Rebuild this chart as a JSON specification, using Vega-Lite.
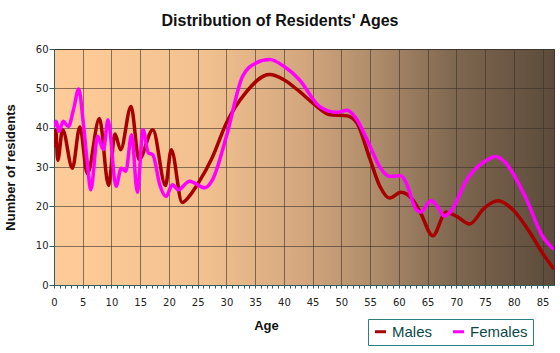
{
  "$schema": "https://vega.github.io/schema/vega-lite/v6.json",
  "width": 500,
  "height": 236,
  "autosize": {"type": "none"},
  "padding": {"left": 54, "top": 49, "right": 6, "bottom": 68},
  "background": "white",
  "title": {"text": "Distribution of Residents' Ages", "fontSize": 16, "font": "Liberation Sans", "fontWeight": "bold", "color": "#111111", "anchor": "middle", "dx": -24, "offset": 15},
  "config": {
    "view": {
      "fill": {"gradient": "linear", "x1": 0, "y1": 0, "x2": 1, "y2": 0, "stops": [
        {"offset": 0, "color": "#FFCC99"},
        {"offset": 0.3, "color": "#F2C18F"},
        {"offset": 0.5, "color": "#D3A67E"},
        {"offset": 0.65, "color": "#AC8A69"},
        {"offset": 0.8, "color": "#7F6750"},
        {"offset": 1, "color": "#5C4B3B"}
      ]},
      "stroke": "#3a3a3a"
    }
  },
  "datasets": {
    "ages": [
      {"age": 0, "sex": "Males", "n": 35}, {"age": 0.3, "sex": "Males", "n": 39.5}, {"age": 0.65, "sex": "Males", "n": 31.7}, {"age": 1.5, "sex": "Males", "n": 39.5}, {"age": 3.2, "sex": "Males", "n": 29.7}, {"age": 4.5, "sex": "Males", "n": 40.2}, {"age": 5.8, "sex": "Males", "n": 28.3}, {"age": 7.9, "sex": "Males", "n": 42.3}, {"age": 9.5, "sex": "Males", "n": 25.3}, {"age": 10.6, "sex": "Males", "n": 38.4}, {"age": 11.6, "sex": "Males", "n": 34.4}, {"age": 13.4, "sex": "Males", "n": 45.4}, {"age": 14.8, "sex": "Males", "n": 31.9}, {"age": 17.2, "sex": "Males", "n": 39.5}, {"age": 19.4, "sex": "Males", "n": 25.3}, {"age": 20.4, "sex": "Males", "n": 34.4}, {"age": 22.3, "sex": "Males", "n": 21}, {"age": 23.5, "sex": "Males", "n": 22.5}, {"age": 25.1, "sex": "Males", "n": 25.9}, {"age": 27.5, "sex": "Males", "n": 32.3}, {"age": 30, "sex": "Males", "n": 41.2}, {"age": 33.3, "sex": "Males", "n": 48.8}, {"age": 37.5, "sex": "Males", "n": 53.5}, {"age": 40, "sex": "Males", "n": 52.2}, {"age": 42.7, "sex": "Males", "n": 49.2}, {"age": 45, "sex": "Males", "n": 46.3}, {"age": 48, "sex": "Males", "n": 43.3}, {"age": 51, "sex": "Males", "n": 43}, {"age": 52.7, "sex": "Males", "n": 41.2}, {"age": 55, "sex": "Males", "n": 31.9}, {"age": 56.7, "sex": "Males", "n": 25.1}, {"age": 58.4, "sex": "Males", "n": 22.1}, {"age": 60.4, "sex": "Males", "n": 23.6}, {"age": 62.4, "sex": "Males", "n": 21.7}, {"age": 63.8, "sex": "Males", "n": 18.3}, {"age": 65.9, "sex": "Males", "n": 12.5}, {"age": 68.2, "sex": "Males", "n": 18.5}, {"age": 70, "sex": "Males", "n": 17.5}, {"age": 72.3, "sex": "Males", "n": 15.5}, {"age": 74.9, "sex": "Males", "n": 19.6}, {"age": 77.2, "sex": "Males", "n": 21.4}, {"age": 79.8, "sex": "Males", "n": 19.2}, {"age": 82.7, "sex": "Males", "n": 13.6}, {"age": 85, "sex": "Males", "n": 8.1}, {"age": 87, "sex": "Males", "n": 4},
      {"age": 0, "sex": "Females", "n": 40.2}, {"age": 0.35, "sex": "Females", "n": 41.6}, {"age": 0.9, "sex": "Females", "n": 39.1}, {"age": 1.6, "sex": "Females", "n": 41.6}, {"age": 2.5, "sex": "Females", "n": 40.3}, {"age": 3.4, "sex": "Females", "n": 44.6}, {"age": 4.3, "sex": "Females", "n": 49.8}, {"age": 5.1, "sex": "Females", "n": 41.2}, {"age": 5.8, "sex": "Females", "n": 31}, {"age": 6.4, "sex": "Females", "n": 24.2}, {"age": 7.6, "sex": "Females", "n": 37.8}, {"age": 8.6, "sex": "Females", "n": 34.4}, {"age": 9.4, "sex": "Females", "n": 42}, {"age": 10.8, "sex": "Females", "n": 25.1}, {"age": 11.7, "sex": "Females", "n": 29.7}, {"age": 12.5, "sex": "Females", "n": 28.9}, {"age": 13.5, "sex": "Females", "n": 38.2}, {"age": 14.5, "sex": "Females", "n": 23.6}, {"age": 15.5, "sex": "Females", "n": 39.5}, {"age": 16.4, "sex": "Females", "n": 33.6}, {"age": 17.2, "sex": "Females", "n": 33.1}, {"age": 18.4, "sex": "Females", "n": 25.5}, {"age": 19.5, "sex": "Females", "n": 22.5}, {"age": 20.6, "sex": "Females", "n": 25.5}, {"age": 21.6, "sex": "Females", "n": 24.2}, {"age": 23.6, "sex": "Females", "n": 26.4}, {"age": 26.2, "sex": "Females", "n": 24.7}, {"age": 27.6, "sex": "Females", "n": 26.8}, {"age": 30, "sex": "Females", "n": 37.8}, {"age": 32.8, "sex": "Females", "n": 53}, {"age": 35.1, "sex": "Females", "n": 56.4}, {"age": 37.5, "sex": "Females", "n": 57.3}, {"age": 40, "sex": "Females", "n": 55.6}, {"age": 42.7, "sex": "Females", "n": 52.2}, {"age": 46.2, "sex": "Females", "n": 45.4}, {"age": 49.1, "sex": "Females", "n": 43.9}, {"age": 51, "sex": "Females", "n": 44.4}, {"age": 52.5, "sex": "Females", "n": 42.5}, {"age": 55, "sex": "Females", "n": 35.2}, {"age": 56.7, "sex": "Females", "n": 30}, {"age": 58.4, "sex": "Females", "n": 27.6}, {"age": 60.4, "sex": "Females", "n": 27.8}, {"age": 61.3, "sex": "Females", "n": 25.9}, {"age": 63, "sex": "Females", "n": 19.2}, {"age": 63.8, "sex": "Females", "n": 18.5}, {"age": 65.6, "sex": "Females", "n": 21.5}, {"age": 66.7, "sex": "Females", "n": 20}, {"age": 67.9, "sex": "Females", "n": 17.5}, {"age": 69, "sex": "Females", "n": 18.7}, {"age": 72, "sex": "Females", "n": 27.2}, {"age": 74.9, "sex": "Females", "n": 31.4}, {"age": 76.9, "sex": "Females", "n": 32.7}, {"age": 78.6, "sex": "Females", "n": 31}, {"age": 82.1, "sex": "Females", "n": 22.1}, {"age": 85, "sex": "Females", "n": 12.4}, {"age": 87, "sex": "Females", "n": 9}
    ]
  },
  "data": {"name": "ages"},
  "mark": {"type": "line", "interpolate": "monotone", "strokeWidth": 3.5, "clip": true},
  "encoding": {
    "x": {
      "field": "age", "type": "quantitative",
      "scale": {"domain": [0, 87], "nice": false, "zero": false},
      "axis": {
        "title": "Age", "titleFont": "Liberation Sans", "titleFontSize": 13, "titleFontWeight": "bold", "titleColor": "#111111", "titlePadding": 12, "titleX": 212,
        "values": [0,1,2,3,4,5,6,7,8,9,10,11,12,13,14,15,16,17,18,19,20,21,22,23,24,25,26,27,28,29,30,31,32,33,34,35,36,37,38,39,40,41,42,43,44,45,46,47,48,49,50,51,52,53,54,55,56,57,58,59,60,61,62,63,64,65,66,67,68,69,70,71,72,73,74,75,76,77,78,79,80,81,82,83,84,85,86],
        "labelExpr": "datum.value % 5 === 0 ? datum.label : ''",
        "labelFont": "DejaVu Sans", "labelFontSize": 10, "labelColor": "#222222", "labelPadding": 9, "labelOverlap": false, "labelFlush": false,
        "tickSize": 3, "tickColor": "#2f5f5f", "domainColor": "#2f5f5f",
        "grid": true, "gridColor": "#3b3128",
        "gridOpacity": {"condition": {"test": "datum.value % 5 === 0", "value": 0.6}, "value": 0}
      }
    },
    "y": {
      "field": "n", "type": "quantitative",
      "scale": {"domain": [0, 60], "nice": false},
      "axis": {
        "title": "Number of residents", "titleFont": "Liberation Sans", "titleFontSize": 13, "titleFontWeight": "bold", "titleColor": "#111111", "titlePadding": 18,
        "values": [0, 10, 20, 30, 40, 50, 60],
        "labelFont": "DejaVu Sans", "labelFontSize": 10, "labelColor": "#222222", "labelPadding": 1,
        "tickSize": 5, "tickColor": "#2f5f5f", "domainColor": "#2f5f5f",
        "grid": true, "gridColor": "#3b3128", "gridOpacity": 0.6
      }
    },
    "color": {
      "field": "sex", "type": "nominal",
      "scale": {"domain": ["Males", "Females"], "range": ["#A80000", "#FF00FF"]},
      "legend": {
        "title": null, "orient": "none", "legendX": 314, "legendY": 270, "direction": "horizontal",
        "symbolType": "stroke", "symbolStrokeWidth": 3, "symbolSize": 120,
        "labelFont": "Liberation Sans", "labelFontSize": 15, "labelColor": "#0a4848",
        "strokeColor": "#2a8080", "padding": 5, "columnPadding": 14, "labelOffset": 4
      }
    }
  }
}
